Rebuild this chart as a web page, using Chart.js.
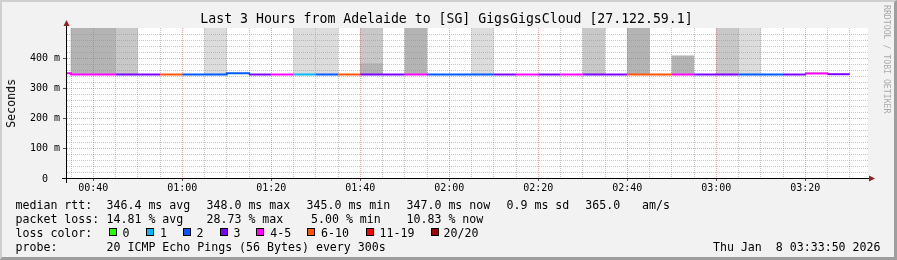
<!DOCTYPE html>
<html><head><meta charset="utf-8">
<script src="https://cdn.jsdelivr.net/npm/chart.js@4/dist/chart.umd.min.js"></script>
<style>
html,body{margin:0;padding:0;background:#f2f2f2;}
#wrap{position:relative;width:897px;height:260px;overflow:hidden;background:#f2f2f2;font-family:"DejaVu Sans Mono",monospace;color:#000;}
#c{position:absolute;left:0;top:0;}
.t{position:absolute;white-space:pre;font-size:11.6px;line-height:14px;}
.box{position:absolute;width:8px;height:8px;box-sizing:border-box;border:1px solid #000;}
#title{position:absolute;left:-2px;width:897px;top:11.4px;text-align:center;white-space:pre;font-size:13.2px;line-height:16px;}
#ylab{position:absolute;left:4px;top:78.6px;writing-mode:vertical-rl;transform:rotate(180deg);font-size:11.6px;line-height:14px;white-space:pre;}
#wm{position:absolute;left:882px;top:5px;writing-mode:vertical-rl;font-size:8.2px;line-height:10px;color:#aaaaaa;white-space:pre;}
#frame{position:absolute;left:0;top:0;width:897px;height:260px;box-sizing:border-box;border-style:solid;border-width:2px 3px 3px 2px;border-color:#cfcfcf #9e9e9e #9e9e9e #cfcfcf;pointer-events:none;}
</style></head>
<body><div id="wrap"><canvas id="c" width="897" height="260"></canvas>
<div id="title">Last 3 Hours from Adelaide to [SG] GigsGigsCloud [27.122.59.1]</div>
<div id="ylab">Seconds</div>
<div id="wm">RRDTOOL / TOBI OETIKER</div>
<div id="frame"></div>
</div>
<script>
// ---- data ----
const intervalStarts = ['00:30','00:35','00:40','00:45','00:50','00:55','01:00','01:05','01:10','01:15','01:20','01:25','01:30','01:35','01:40','01:45','01:50','01:55','02:00','02:05','02:10','02:15','02:20','02:25','02:30','02:35','02:40','02:45','02:50','02:55','03:00','03:05','03:10','03:15','03:20','03:25'];
const medianRtt = [350,346,346,346,346,346,346,346,350,346,346,346,346,346,346,346,346,346,346,346,346,346,346,346,346,346,346,346,346,346,346,346,346,346,349,347];
const lossBucket = ['4-5','4-5','4-5','3','3','6-10','2','2','2','3','4-5','1','2','6-10','3','3','4-5','2','2','2','3','4-5','3','4-5','3','3','6-10','6-10','4-5','3','3','2','2','3','4-5','3'];
const smokeDarkTop  = [null,500,500,null,null,null,null,null,null,null,null,null,null,null,382,null,500,null,null,null,null,null,null,null,null,null,500,null,408,null,null,null,null,null,352,null];
const smokeMidTop   = [null,null,null,500,null,null,null,null,null,null,null,null,null,null,500,null,null,null,null,null,null,null,null,null,500,null,null,null,null,null,500,null,null,null,null,null];
const smokeLightTop = [null,null,null,null,null,null,null,500,null,null,null,500,500,null,null,null,null,null,null,500,null,null,null,null,null,null,null,null,null,null,null,500,null,null,null,null];

const lossBuckets = ['0','1','2','3','4-5','6-10','11-19','20/20'];
const lossColors  = ['#26ff00','#00b8ff','#0059ff','#7e00ff','#ff00ff','#ff5500','#ff0000','#a00000'];

const xTickLabels = ['00:40','01:00','01:20','01:40','02:00','02:20','02:40','03:00','03:20'];
const yTickValues = [0,100,200,300,400];
const yTickLabels = ['0  ','100 m','200 m','300 m','400 m'];

const statsRtt  = ['346.4 ms avg','348.0 ms max','345.0 ms min','347.0 ms now','0.9 ms sd','365.0','am/s'];
const statsLoss = ['14.81 % avg','28.73 % max','5.00 % min','10.83 % now'];
const probeText = '20 ICMP Echo Pings (56 Bytes) every 300s';
const dateText = 'Thu Jan  8 03:33:50 2026';

// ---- config ----
const stepMinutes = 5;
const viewStart = 34.1, viewEnd = 214.1;
const GRID = 'rgba(143,143,143,0.5)';
const MGRID = 'rgba(224,80,80,0.5)';

function toMin(s){const p=s.split(':').map(Number);return p[0]*60+p[1];}
const lossColorOf = b => lossColors[lossBuckets.indexOf(b)];
const majorX = xTickLabels.map(toMin);

const linePts = intervalStarts.map((s,i)=>({x:toMin(s), y:medianRtt[i]}));
linePts.push({x: toMin(intervalStarts[intervalStarts.length-1]) + stepMinutes, y: medianRtt[medianRtt.length-1]});

const darkData=[], midData=[], lightData=[];
intervalStarts.forEach((s,i)=>{
  const cx = toMin(s)+stepMinutes/2;
  let base = medianRtt[i];
  if (smokeDarkTop[i]!=null){ darkData.push({x:cx,y:[base,smokeDarkTop[i]]}); base=smokeDarkTop[i]; }
  if (smokeMidTop[i]!=null){ midData.push({x:cx,y:[base,smokeMidTop[i]]}); base=smokeMidTop[i]; }
  if (smokeLightTop[i]!=null){ lightData.push({x:cx,y:[base,smokeLightTop[i]]}); }
});

const xGrid=[]; for(let v=Math.ceil(viewStart/5)*5; v<=viewEnd; v+=5) xGrid.push(v);
const yGrid=[]; for(let v=0; v<=500; v+=20) yGrid.push(v);

const barCommon = {type:'bar', borderWidth:0, grouped:false, barPercentage:1, categoryPercentage:1, order:1};

const rrdPlugin = {
  id:'rrd',
  beforeDraw(chart){
    const {ctx, chartArea:a} = chart;
    ctx.save(); ctx.fillStyle='#ffffff'; ctx.fillRect(a.left,a.top,a.right-a.left,a.bottom-a.top); ctx.restore();
  },
  beforeDatasetDraw(chart,args){ if(args.index===0) return false; },
  afterDraw(chart){
    const {ctx, chartArea:a} = chart;
    const meta = chart.getDatasetMeta(0);
    ctx.save(); ctx.beginPath(); ctx.rect(a.left,a.top,a.right-a.left,a.bottom-a.top); ctx.clip();
    meta.controller.draw();
    ctx.restore();
    const ys = chart.scales.y, xs = chart.scales.x;
    ctx.save();
    ctx.fillStyle='#000';
    const by = Math.round(a.bottom)-1;
    ctx.fillRect(a.left-5, by, a.right-a.left+6, 1);
    ctx.fillRect(Math.round(a.left)-1, a.top-4, 1, a.bottom-a.top+8);
    ctx.fillStyle='#555';
    yTickValues.forEach(v=>{ if(v>0){ const y=Math.floor(ys.getPixelForValue(v)); ctx.fillRect(a.left-4,y,3,1);} });
    majorX.forEach(v=>{ const x=Math.floor(xs.getPixelForValue(v)); ctx.fillRect(x,by+1,1,2); });
    ctx.fillStyle='#962020';
    ctx.beginPath(); const ax=Math.round(a.left)-0.5;
    ctx.moveTo(ax-3,a.top-2); ctx.lineTo(ax+3,a.top-2); ctx.lineTo(ax,a.top-8); ctx.closePath(); ctx.fill();
    ctx.beginPath(); const ay=by+0.5;
    ctx.moveTo(a.right+1,ay-3); ctx.lineTo(a.right+1,ay+3); ctx.lineTo(a.right+7,ay); ctx.closePath(); ctx.fill();
    ctx.restore();
  }
};

new Chart(document.getElementById('c'), {
  type:'line',
  data:{datasets:[
    {type:'line', data:linePts, stepped:'before', borderWidth:2, pointRadius:0, fill:false, order:0,
     borderColor:lossColorOf(lossBucket[0]), borderCapStyle:'butt',
     segment:{borderColor: c => lossColorOf(lossBucket[c.p0DataIndex])}},
    Object.assign({data:darkData, backgroundColor:'#b4b4b4'}, barCommon),
    Object.assign({data:midData, backgroundColor:'#c8c8c8'}, barCommon),
    Object.assign({data:lightData, backgroundColor:'#dcdcdc'}, barCommon)
  ]},
  options:{
    responsive:false, animation:false, devicePixelRatio:1, events:[],
    layout:{padding:{left:0, top:28, right:29, bottom:59}},
    plugins:{legend:{display:false}, tooltip:{enabled:false}, title:{display:false}},
    scales:{
      x:{type:'linear', min:viewStart, max:viewEnd, offset:false,
         afterFit: s => { s.height = 22; },
         afterBuildTicks: s => { s.ticks = xGrid.map(v=>({value:v})); },
         ticks:{autoSkip:false, maxRotation:0, padding:3, color:'#000', font:{family:'DejaVu Sans Mono', size:10},
                callback: v => { const i = majorX.indexOf(v); return i>=0 ? xTickLabels[i] : ''; }},
         grid:{z:1, offset:false, drawTicks:false, lineWidth:1, color: c => majorX.includes(c.tick && c.tick.value) ? MGRID : GRID},
         border:{display:false, dash:[1,1]}},
      y:{type:'linear', min:0, max:500,
         afterFit: s => { s.width = 67; },
         afterBuildTicks: s => { s.ticks = yGrid.map(v=>({value:v})); },
         ticks:{autoSkip:false, padding:7, color:'#000', font:{family:'DejaVu Sans Mono', size:10},
                callback: v => { const i = yTickValues.indexOf(v); return i>=0 ? yTickLabels[i] : ''; }},
         grid:{z:1, drawTicks:false, lineWidth:1, color: c => { const v = c.tick && c.tick.value; if (v===500||v===0) return 'rgba(0,0,0,0)'; return v%100===0 ? MGRID : GRID; }},
         border:{display:false, dash:[1,1]}}
    }
  },
  plugins:[rrdPlugin]
});

// ---- legend text ----
const wrap = document.getElementById('wrap');
function addText(txt, left, top, extra){ const d=document.createElement('div'); d.className='t'; d.textContent=txt; d.style.left=left+'px'; d.style.top=top+'px'; if(extra) Object.assign(d.style, extra); wrap.appendChild(d); return d; }
const rowTop = [197.5, 211.5, 225.5, 239.5];
addText('median rtt:', 15.5, rowTop[0]);
[106.5,206.5,306.5,406.5,506.5,585.3,642].forEach((x,i)=>addText(statsRtt[i], x, rowTop[0]));
addText('packet loss:', 15.5, rowTop[1]);
[106.5,206.5,311,406.5].forEach((x,i)=>addText(statsLoss[i], x, rowTop[1]));
addText('loss color:', 15.5, rowTop[2]);
const boxX = [109,145.7,183,219.7,256.3,307,365.7,430.7];
const labX = [122.6,160,196.6,233.6,270.3,321,379.6,443.5];
lossBuckets.forEach((b,i)=>{
  const bx=document.createElement('div'); bx.className='box'; bx.style.left=boxX[i]+'px'; bx.style.top='228px'; bx.style.background=lossColors[i]; wrap.appendChild(bx);
  addText(b, labX[i], rowTop[2]);
});
addText('probe:', 15.5, rowTop[3]);
addText(probeText, 106.5, rowTop[3]);
addText(dateText, 0, rowTop[3], {left:'auto', right:'16.5px'});
</script>
</body></html>
